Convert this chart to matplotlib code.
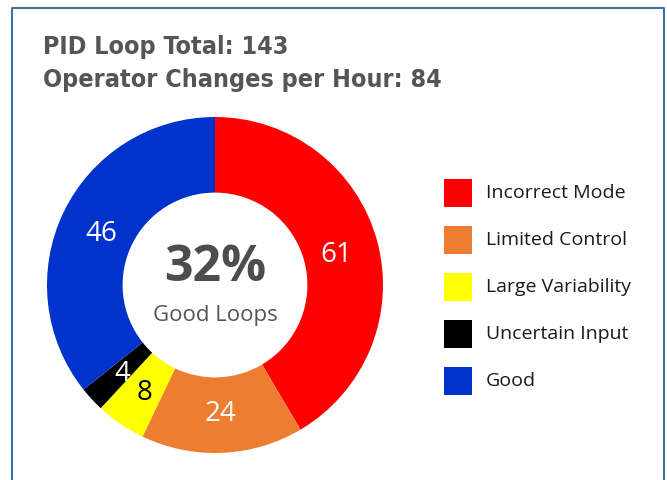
import numpy as np
import matplotlib
matplotlib.use('Agg')
import matplotlib.pyplot as plt
from matplotlib.patches import Rectangle

categories = ['Incorrect Mode', 'Limited Control', 'Large Variability', 'Uncertain Input', 'Good']
counts = [61, 24, 8, 4, 46]
# wedge sizes as drawn in the picture (percent of the ring); not exactly proportional to counts
slice_pct = [41.5, 15.6, 4.8, 2.4, 35.7]
colors = ['#FF0000', '#ED7D31', '#FFFF00', '#000000', '#0033CC']
label_colors = ['white', 'white', 'black', 'white', 'white']
loop_total = 143
changes_per_hour = 84
good_pct = '32%'

W, H = 667, 480
fig = plt.figure(figsize=(W / 100, H / 100), dpi=100)

# frame around the panel (open at the bottom)
fig.add_artist(plt.Line2D([12 / W, 12 / W, 664 / W, 664 / W],
                          [0, 1 - 8 / H, 1 - 8 / H, 0],
                          transform=fig.transFigure, color='#3f72aa', lw=1.5))

title_font = ['DejaVu Sans']
body_font = ['Open Sans', 'DejaVu Sans']
for i, line in enumerate([f'PID Loop Total: {loop_total}',
                          f'Operator Changes per Hour: {changes_per_hour}']):
    fig.text(43 / W, 1 - (47 + 33 * i) / H, line, fontsize=18, fontweight='bold',
             fontstretch='condensed', color='#555555', family=title_font, va='center')

# donut
cx, cy, r = 215, 285, 168
ax = fig.add_axes([(cx - r) / W, (H - cy - r) / H, 2 * r / W, 2 * r / H])
wedges, _ = ax.pie(slice_pct, colors=colors, startangle=90, counterclock=False,
                   radius=1, wedgeprops=dict(width=0.45, linewidth=0))
ax.set_xlim(-1, 1)
ax.set_ylim(-1, 1)
for w, v, c in zip(wedges, counts, label_colors):
    ang = np.deg2rad((w.theta1 + w.theta2) / 2)
    ax.text(0.75 * np.cos(ang), 0.75 * np.sin(ang), str(v), ha='center',
            va='center_baseline', fontsize=20, color=c, family=body_font)
ax.text(0, 0.1, good_pct, ha='center', va='center', fontsize=36, fontweight='bold',
        color='#4d4d4d', family=body_font)
ax.text(0, -0.18, 'Good Loops', ha='center', va='center', fontsize=16,
        color='#555555', family=body_font)

# legend
for i, (name, col) in enumerate(zip(categories, colors)):
    y = 193 + i * 47
    fig.add_artist(Rectangle((444 / W, 1 - (y + 14) / H), 28 / W, 28 / H,
                             transform=fig.transFigure, color=col, lw=0))
    fig.text(486 / W, 1 - y / H, name, fontsize=14, color='#1a1a1a',
             family=body_font, va='center')

fig.savefig('out.png', dpi=100)
